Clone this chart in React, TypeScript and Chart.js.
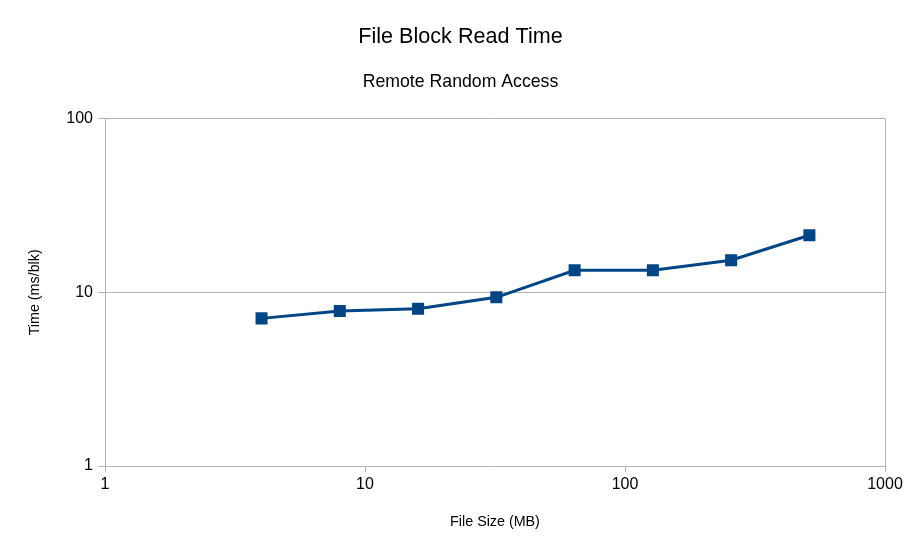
import React, { useEffect, useRef } from "react";
import { Chart, registerables } from "chart.js";

Chart.register(...registerables);

const fileSizesMB = [4, 8, 16, 32, 64, 128, 256, 512];
const readTimeMs = [7.08, 7.8, 8.04, 9.36, 13.4, 13.4, 15.3, 21.3];
const xTickValues = [1, 10, 100, 1000];
const yTickValues = [1, 10, 100];

const GRID = "#b3b3b3";
const FONT = "'Liberation Sans', Arial, sans-serif";

export default function App() {
  const ref = useRef<HTMLCanvasElement | null>(null);

  useEffect(() => {
    document.body.style.margin = "0";
    const canvas = ref.current;
    if (!canvas) return;
    const chart = new Chart(canvas, {
      type: "line",
      data: {
        datasets: [
          {
            label: "Time",
            data: fileSizesMB.map((x, i) => ({ x, y: readTimeMs[i] })),
            borderColor: "#004586",
            backgroundColor: "#004586",
            borderWidth: 3,
            pointStyle: "rect",
            pointRadius: 8.5,
            pointHoverRadius: 8.5,
            pointBorderWidth: 0,
            tension: 0,
            yAxisID: "y",
          },
        ],
      },
      options: {
        animation: false,
        responsive: false,
        maintainAspectRatio: false,
        layout: { padding: 0 },
        plugins: {
          legend: { display: false },
          tooltip: { enabled: false },
          title: {
            display: true,
            text: "File Block Read Time",
            color: "#000",
            font: { family: FONT, size: 21.6, weight: "normal" },
            padding: { top: 24, bottom: 11 },
          },
          subtitle: {
            display: true,
            text: "Remote Random Access",
            color: "#000",
            font: { family: FONT, size: 17.7, weight: "normal" },
            padding: { top: 10.5, bottom: 26 },
          },
        },
        scales: {
          x: {
            type: "logarithmic",
            min: 1,
            max: 1000,
            afterBuildTicks: (axis: any) => {
              axis.ticks = xTickValues.map((v) => ({ value: v }));
            },
            afterFit: (axis: any) => {
              axis.height = 89;
            },
            ticks: {
              color: "#000",
              font: { family: FONT, size: 16 },
              padding: 3,
              maxRotation: 0,
              autoSkip: false,
              callback: (v: any) => String(v),
            },
            grid: {
              color: (ctx: any) =>
                ctx.tick && ctx.tick.value === 1000 ? GRID : "rgba(0,0,0,0)",
              tickColor: GRID,
              tickLength: 6,
              lineWidth: 1,
            },
            border: { display: true, color: GRID },
            title: {
              display: true,
              text: "File Size (MB)",
              color: "#000",
              font: { family: FONT, size: 14.3 },
              padding: { top: 0, bottom: 24.7 },
            },
          },
          y: {
            type: "logarithmic",
            position: "left",
            min: 1,
            max: 100,
            afterBuildTicks: (axis: any) => {
              axis.ticks = yTickValues.map((v) => ({ value: v }));
            },
            afterFit: (axis: any) => {
              axis.width = 105;
            },
            ticks: {
              color: "#000",
              font: { family: FONT, size: 16 },
              padding: 5,
              autoSkip: false,
              callback: (v: any) => String(v),
            },
            grid: {
              color: GRID,
              tickColor: GRID,
              tickLength: 7,
              lineWidth: 1,
            },
            border: { display: true, color: GRID },
            title: {
              display: true,
              text: "Time (ms/blk)",
              color: "#000",
              font: { family: FONT, size: 14.3 },
              padding: { top: 26.4, bottom: 0 },
            },
          },
          yRightSpace: {
            type: "linear",
            position: "right",
            display: true,
            min: 0,
            max: 1,
            afterFit: (axis: any) => {
              axis.width = 36;
            },
            ticks: { display: false },
            grid: { display: false, drawOnChartArea: false },
            border: { display: false },
          },
        },
      },
    } as any);
    return () => chart.destroy();
  }, []);

  return (
    <div style={{ width: 921, height: 555, background: "#fff" }}>
      <canvas ref={ref} width={921} height={555} style={{ display: "block" }} />
    </div>
  );
}
